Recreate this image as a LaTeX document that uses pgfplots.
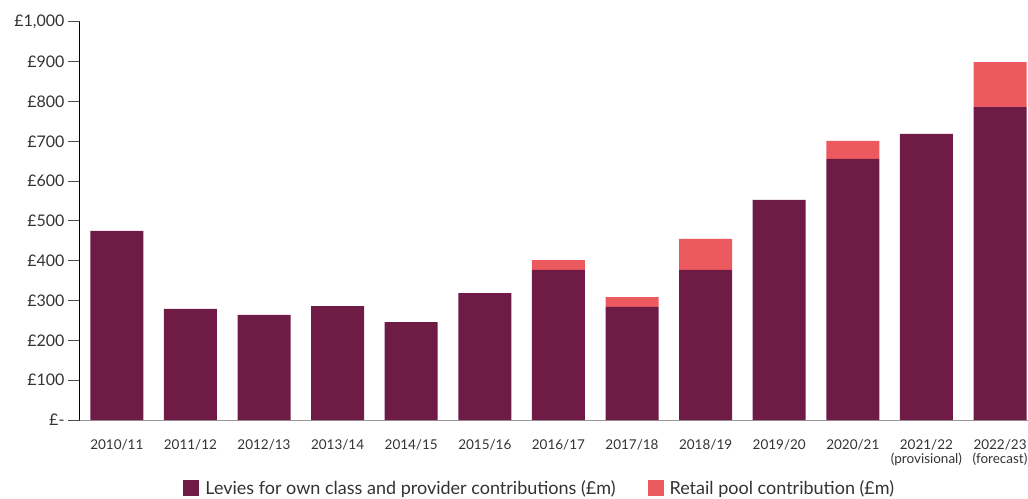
\documentclass[border=0pt]{standalone}
\usepackage{fontspec}
\setmainfont{Lato}
\usepackage{pgfplots}
\pgfplotsset{compat=1.18}
\definecolor{levy}{HTML}{6E1B46}
\definecolor{pool}{HTML}{EC595F}
\definecolor{txt}{HTML}{333333}
\begin{document}
\begin{tikzpicture}
\begin{axis}[
  at={(80pt,78pt)}, anchor=south west,
  scale only axis, width=948pt, height=398pt,
  ybar stacked, bar width=53pt,
  xmin=-0.5, xmax=12.38, ymin=0, ymax=1000,
  axis x line*=bottom, axis y line*=left,
  x axis line style={draw=gray!80, line width=1pt},
  y axis line style={draw=black, line width=1pt},
  xtick={0,...,12},
  xticklabels={2010/11,2011/12,2012/13,2013/14,2014/15,2015/16,2016/17,2017/18,2018/19,2019/20,2020/21,{2021/22\\(provisional)},{2022/23\\(forecast)}},
  x tick label style={font=\fontsize{13.5}{14.5}\selectfont, text=txt, align=center, yshift=-4pt},
  xtick style={draw=none},
  extra x ticks={0.5,1.5,...,11.5}, extra x tick labels={},
  extra x tick style={major tick length=10pt, tick style={draw=gray!60!black, line width=1pt}},
  ytick={0,100,...,1000},
  yticklabels={£-,£100,£200,£300,£400,£500,£600,£700,£800,£900,£1{,}000},
  y tick label style={font=\fontsize{16}{18}\selectfont, text=txt},
  ytick style={draw=gray!60!black, line width=1pt},
  tick align=outside, major tick length=12pt,
  legend style={at={(0.485,-0.171)}, anchor=center, draw=none, legend columns=2,
    font=\fontsize{18}{20}\selectfont, text=txt},
  legend image code/.code={\fill[#1] (0pt,-8pt) rectangle (16pt,8pt);},
]
\addplot[fill=levy, draw=none] coordinates {(0,475) (1,279) (2,264) (3,286) (4,246) (5,319) (6,377) (7,284) (8,377) (9,553) (10,656) (11,719) (12,786)};
\addplot[fill=pool, draw=none] coordinates {(0,0) (1,0) (2,0) (3,0) (4,0) (5,0) (6,25) (7,25) (8,78) (9,0) (10,45) (11,0) (12,113)};
\legend{\rule{4pt}{0pt}Levies for own class and provider contributions (£m)\rule{30pt}{0pt}, \rule{4pt}{0pt}Retail pool contribution (£m)}
\end{axis}
\pgfresetboundingbox
\path[use as bounding box] (0,0) rectangle (1028pt,498pt);
\end{tikzpicture}
\end{document}
